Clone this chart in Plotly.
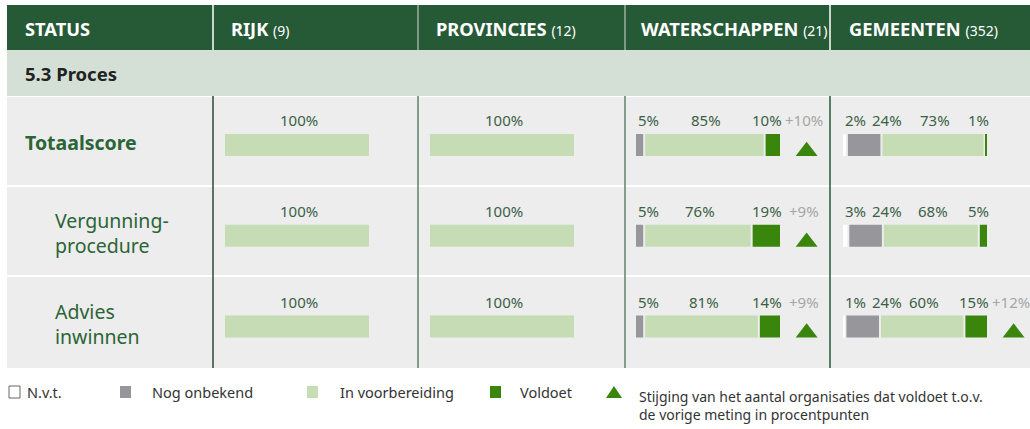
import plotly.graph_objects as go

# ---------------- data ----------------
status_title = "STATUS"
section_title = "5.3 Proces"
rows = ["Totaalscore", "Vergunning-<br>procedure", "Advies<br>inwinnen"]
row_bold = [True, False, False]
columns = ["RIJK", "PROVINCIES", "WATERSCHAPPEN", "GEMEENTEN"]
column_counts = ["(9)", "(12)", "(21)", "(352)"]

rijk_nvt = [0, 0, 0]
rijk_onbekend = [0, 0, 0]
rijk_voorbereiding = [100, 100, 100]
rijk_voldoet = [0, 0, 0]
rijk_stijging = [None, None, None]

prov_nvt = [0, 0, 0]
prov_onbekend = [0, 0, 0]
prov_voorbereiding = [100, 100, 100]
prov_voldoet = [0, 0, 0]
prov_stijging = [None, None, None]

ws_nvt = [0, 0, 0]
ws_onbekend = [5, 5, 5]
ws_voorbereiding = [85, 76, 81]
ws_voldoet = [10, 19, 14]
ws_stijging = [10, 9, 9]

gm_nvt = [2, 3, 1]
gm_onbekend = [24, 24, 24]
gm_voorbereiding = [73, 68, 60]
gm_voldoet = [1, 5, 15]
gm_stijging = [None, None, 12]

legend_labels = ["N.v.t.", "Nog onbekend", "In voorbereiding", "Voldoet",
                 "Stijging van het aantal organisaties dat voldoet t.o.v.<br>de vorige meting in procentpunten"]

# ---------------- style ----------------
W, H = 1030, 429
HEADER = "#265A37"
SECTION_BG = "#D4E0D6"
ROW_BG = "#EDEDED"
WHITE = "#FFFFFF"
GREY = "#97979B"
LIGHT = "#C5DCB5"
DARK = "#3A860D"
LBL = "#3B6147"
STIJG = "#A6A6A6"
ROWLBL = "#2B6436"
FONT = "Noto Sans"
LBL_SIZE = 15

seg_colors = [WHITE, GREY, LIGHT, DARK]
col_edges = [7, 213, 418, 625, 830, 1030]
hdr_text_x = [23, 229, 434, 639, 847]
bar_start = [225, 430, 636, 843]
BAR_PX = 144.0
PPU = BAR_PX / 100.0          # pixels per percent unit
ROW0_PX, ROW_STEP = 145.0, 90.75
BAR_W = 22.0 / ROW_STEP
GAP = 1.4
TRI_X = 118.5
TRI_DY = 0.07

col_data = [
    (rijk_nvt, rijk_onbekend, rijk_voorbereiding, rijk_voldoet, rijk_stijging),
    (prov_nvt, prov_onbekend, prov_voorbereiding, prov_voldoet, prov_stijging),
    (ws_nvt, ws_onbekend, ws_voorbereiding, ws_voldoet, ws_stijging),
    (gm_nvt, gm_onbekend, gm_voorbereiding, gm_voldoet, gm_stijging),
]


def px(x):
    return x / W


def py(y):
    return 1 - y / H


def label_w(t):
    return 8.5 * (len(t) - 1) + 13.0


fig = go.Figure()
annotations = []
shapes = []

y_top = (0 - ROW0_PX) / ROW_STEP
y_bot = (H - ROW0_PX) / ROW_STEP

layout_axes = {}
for ci in range(4):
    ax = "x" if ci == 0 else f"x{ci + 1}"
    axname = "xaxis" if ci == 0 else f"xaxis{ci + 1}"
    end_px = col_edges[ci + 2]
    layout_axes[axname] = dict(domain=[px(bar_start[ci]), px(end_px)],
                               range=[0, (end_px - bar_start[ci]) / PPU],
                               visible=False, fixedrange=True, anchor="y")
    segs = col_data[ci][:4]
    stij = col_data[ci][4]
    for si in range(4):
        xs, bases, ys = [], [], []
        for r in range(3):
            vals = [segs[k][r] for k in range(4)]
            v = vals[si]
            if v <= 0:
                continue
            start = sum(vals[:si])
            end = start + v
            nz = [k for k in range(4) if vals[k] > 0]
            pos = nz.index(si)
            if pos > 0:
                prev = nz[pos - 1]
                if vals[si] >= vals[prev]:
                    start += GAP
            if pos < len(nz) - 1:
                nxt = nz[pos + 1]
                if vals[si] > vals[nxt]:
                    end -= GAP
            xs.append(end - start)
            bases.append(start)
            ys.append(r)
        if xs:
            fig.add_trace(go.Bar(orientation="h", x=xs, base=bases, y=ys, width=BAR_W,
                                 marker=dict(color=seg_colors[si], line=dict(width=0)),
                                 xaxis=ax, yaxis="y", showlegend=False, hoverinfo="skip"))
    # percentage labels
    for r in range(3):
        vals = [segs[k][r] for k in range(4)]
        nz = [k for k in range(4) if vals[k] > 0]
        prev_end_px = -1e9
        for pos, k in enumerate(nz):
            t = f"{vals[k]}%"
            wpx = label_w(t)
            start = sum(vals[:k])
            if len(nz) == 1:
                left = (start + vals[k] / 2) * PPU - wpx / 2
            elif pos == 0:
                left = 0
            elif pos == len(nz) - 1:
                left = 100 * PPU - wpx
            else:
                left = (start + vals[k] / 2) * PPU - wpx / 2
                left = max(left, prev_end_px + 5)
            prev_end_px = left + wpx
            annotations.append(dict(x=left / PPU, y=r, xref=ax, yref="y", xanchor="left",
                                    yanchor="middle", yshift=25, text=t, showarrow=False,
                                    font=dict(family=FONT, size=LBL_SIZE, color=LBL)))
    # stijging
    tx, ty = [], []
    for r in range(3):
        if stij[r] is not None:
            tx.append(TRI_X)
            ty.append(r + TRI_DY)
            annotations.append(dict(x=TRI_X - 1.5, y=r, xref=ax, yref="y", xanchor="center",
                                    yanchor="middle", yshift=25, text=f"+{stij[r]}%",
                                    showarrow=False,
                                    font=dict(family=FONT, size=LBL_SIZE, color=STIJG)))
    if tx:
        fig.add_trace(go.Scatter(x=tx, y=ty, mode="markers", xaxis=ax, yaxis="y",
                                 marker=dict(symbol="triangle-up", size=19, color=DARK),
                                 cliponaxis=False, showlegend=False, hoverinfo="skip"))

# ---------------- table background ----------------
shapes.append(dict(type="rect", xref="paper", yref="paper", x0=px(7), x1=px(W), y0=py(5), y1=py(50),
                   fillcolor=HEADER, line=dict(width=0), layer="below"))
shapes.append(dict(type="rect", xref="paper", yref="paper", x0=px(7), x1=px(W), y0=py(50), y1=py(96),
                   fillcolor=SECTION_BG, line=dict(width=0), layer="below"))
for (a, b) in [(97, 185), (187, 275), (277, 368)]:
    shapes.append(dict(type="rect", xref="paper", yref="paper", x0=px(7), x1=px(W), y0=py(a), y1=py(b),
                       fillcolor=ROW_BG, line=dict(width=0), layer="below"))
hdr_sep = ["#FFFFFF", "#9DB0A2", "#9DB0A2", "#FFFFFF"]
body_sep = ["#2C4A36", "#5F7F68", "#5F806A", "#265A37"]
for i, xx in enumerate(col_edges[1:5]):
    shapes.append(dict(type="line", xref="paper", yref="paper", x0=px(xx), x1=px(xx), y0=py(5), y1=py(50),
                       line=dict(color=hdr_sep[i], width=1.5), layer="below"))
    shapes.append(dict(type="line", xref="paper", yref="paper", x0=px(xx), x1=px(xx), y0=py(96), y1=py(368),
                       line=dict(color=body_sep[i], width=1.5), layer="below"))

# header texts
annotations.append(dict(x=px(hdr_text_x[0]), y=py(28), xref="paper", yref="paper", xanchor="left",
                        yanchor="middle", text=f"<b>{status_title}</b>", showarrow=False,
                        font=dict(family=FONT, size=18.3, color="white")))
for ci in range(4):
    annotations.append(dict(x=px(hdr_text_x[ci + 1]), y=py(28), xref="paper", yref="paper",
                            xanchor="left", yanchor="middle",
                            text=f"<b>{columns[ci]}</b> <span style='font-size:14px'>{column_counts[ci]}</span>",
                            showarrow=False, font=dict(family=FONT, size=18.3, color="white")))
annotations.append(dict(x=px(23), y=py(73), xref="paper", yref="paper", xanchor="left", yanchor="middle",
                        text=f"<b>{section_title}</b>", showarrow=False,
                        font=dict(family=FONT, size=18.5, color="#222222")))
for r in range(3):
    txt = f"<b>{rows[r]}</b>" if row_bold[r] else rows[r]
    annotations.append(dict(x=px(23 if row_bold[r] else 53), y=r, xref="paper", yref="y",
                            xanchor="left", yanchor="middle", text=txt, showarrow=False, align="left",
                            yshift=3, font=dict(family=FONT, size=19.5, color=ROWLBL)))

# ---------------- legend ----------------
LEG_Y = 392
sw = [(9, "white", "#666666"), (120, GREY, GREY), (307, LIGHT, LIGHT), (490, DARK, DARK)]
lab_x = [25, 150, 338, 518]
for i, (x0, fc, lc) in enumerate(sw):
    shapes.append(dict(type="rect", xref="paper", yref="paper", x0=px(x0), x1=px(x0 + 11),
                       y0=py(LEG_Y - 6), y1=py(LEG_Y + 6), fillcolor=fc,
                       line=dict(color=lc, width=1 if i == 0 else 0)))
    annotations.append(dict(x=px(lab_x[i]), y=py(LEG_Y), xref="paper", yref="paper", xanchor="left",
                            yanchor="middle", text=legend_labels[i], showarrow=False,
                            font=dict(family=FONT, size=14.5, color="#333333")))
shapes.append(dict(type="path", xref="paper", yref="paper",
                   path=f"M {px(606)},{py(398)} L {px(622)},{py(398)} L {px(614)},{py(386)} Z",
                   fillcolor=DARK, line=dict(width=0)))
annotations.append(dict(x=px(637), y=py(385), xref="paper", yref="paper", xanchor="left", yanchor="top",
                        text=legend_labels[4], showarrow=False, align="left",
                        font=dict(family=FONT, size=14, color="#333333")))

fig.update_layout(
    width=W, height=H, margin=dict(l=0, r=0, t=0, b=0),
    paper_bgcolor="white", plot_bgcolor="rgba(0,0,0,0)",
    barmode="overlay", showlegend=False, hovermode=False,
    yaxis=dict(domain=[0, 1], range=[y_bot, y_top], visible=False, fixedrange=True),
    shapes=shapes, annotations=annotations,
    **layout_axes,
)
fig.write_html("out.html", config={"displayModeBar": False},
               post_script="document.body.style.margin='0px';document.body.style.padding='0px';")
